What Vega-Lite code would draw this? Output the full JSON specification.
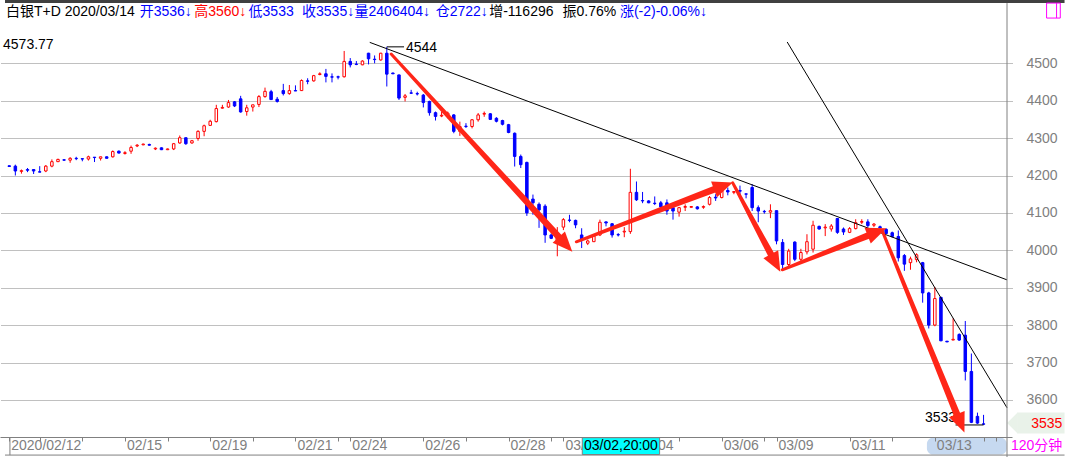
{
  "$schema": "https://vega.github.io/schema/vega-lite/v6.json",
  "width": 1012,
  "height": 409,
  "autosize": {"type": "none"},
  "padding": {"left": 0, "top": 28, "right": 58, "bottom": 20},
  "background": "white",
  "config": {"view": {"stroke": null}, "font": "Liberation Sans"},
  "datasets": {
    "candles": [
      {"i":0,"o":4226,"h":4227,"l":4223,"c":4224},{"i":1,"o":4225,"h":4229,"l":4200,"c":4212},{"i":2,"o":4211,"h":4216,"l":4205,"c":4213},{"i":3,"o":4216,"h":4220,"l":4209,"c":4214},{"i":4,"o":4216,"h":4217,"l":4204,"c":4212},{"i":5,"o":4210,"h":4225,"l":4209,"c":4209},{"i":6,"o":4212,"h":4228,"l":4209,"c":4225},{"i":7,"o":4225,"h":4243,"l":4222,"c":4237},{"i":8,"o":4237,"h":4245,"l":4236,"c":4243},{"i":9,"o":4242,"h":4244,"l":4239,"c":4241},
      {"i":10,"o":4241,"h":4249,"l":4234,"c":4246},{"i":11,"o":4246,"h":4250,"l":4241,"c":4245},{"i":12,"o":4245,"h":4245,"l":4238,"c":4244},{"i":13,"o":4244,"h":4253,"l":4240,"c":4250},{"i":14,"o":4249,"h":4249,"l":4236,"c":4248},{"i":15,"o":4246,"h":4250,"l":4240,"c":4250},{"i":16,"o":4250,"h":4251,"l":4246,"c":4246},{"i":17,"o":4250,"h":4267,"l":4248,"c":4264},{"i":18,"o":4265,"h":4267,"l":4259,"c":4260},{"i":19,"o":4259,"h":4265,"l":4256,"c":4261},
      {"i":20,"o":4265,"h":4280,"l":4258,"c":4275},{"i":21,"o":4279,"h":4284,"l":4276,"c":4281},{"i":22,"o":4282,"h":4285,"l":4281,"c":4284},{"i":23,"o":4283,"h":4285,"l":4280,"c":4281},{"i":24,"o":4271,"h":4275,"l":4268,"c":4273},{"i":25,"o":4274,"h":4275,"l":4268,"c":4269},{"i":26,"o":4269,"h":4272,"l":4268,"c":4271},{"i":27,"o":4271,"h":4287,"l":4268,"c":4285},{"i":28,"o":4287,"h":4307,"l":4285,"c":4301},{"i":29,"o":4301,"h":4301,"l":4282,"c":4285},
      {"i":30,"o":4287,"h":4295,"l":4285,"c":4293},{"i":31,"o":4299,"h":4321,"l":4293,"c":4318},{"i":32,"o":4318,"h":4336,"l":4305,"c":4333},{"i":33,"o":4334,"h":4349,"l":4333,"c":4345},{"i":34,"o":4344,"h":4389,"l":4342,"c":4379},{"i":35,"o":4380,"h":4389,"l":4379,"c":4382},{"i":36,"o":4383,"h":4402,"l":4381,"c":4395},{"i":37,"o":4397,"h":4399,"l":4383,"c":4386},{"i":38,"o":4405,"h":4413,"l":4368,"c":4370},{"i":39,"o":4371,"h":4389,"l":4360,"c":4381},
      {"i":40,"o":4383,"h":4389,"l":4371,"c":4389},{"i":41,"o":4390,"h":4415,"l":4383,"c":4411},{"i":42,"o":4411,"h":4435,"l":4408,"c":4425},{"i":43,"o":4424,"h":4429,"l":4402,"c":4403},{"i":44,"o":4404,"h":4410,"l":4395,"c":4398},{"i":45,"o":4427,"h":4445,"l":4414,"c":4419},{"i":46,"o":4419,"h":4442,"l":4416,"c":4427},{"i":47,"o":4427,"h":4441,"l":4426,"c":4426},{"i":48,"o":4427,"h":4457,"l":4426,"c":4454},{"i":49,"o":4453,"h":4460,"l":4444,"c":4452},
      {"i":50,"o":4453,"h":4469,"l":4451,"c":4467},{"i":51,"o":4470,"h":4476,"l":4468,"c":4472},{"i":52,"o":4472,"h":4485,"l":4449,"c":4465},{"i":53,"o":4464,"h":4473,"l":4449,"c":4463},{"i":54,"o":4464,"h":4467,"l":4457,"c":4463},{"i":55,"o":4464,"h":4533,"l":4462,"c":4505},{"i":56,"o":4505,"h":4514,"l":4489,"c":4496},{"i":57,"o":4498,"h":4506,"l":4495,"c":4497},{"i":58,"o":4496,"h":4508,"l":4495,"c":4506},{"i":59,"o":4527,"h":4528,"l":4497,"c":4512},
      {"i":60,"o":4511,"h":4521,"l":4500,"c":4510},{"i":61,"o":4509,"h":4528,"l":4507,"c":4527},{"i":62,"o":4527,"h":4544,"l":4438,"c":4471},{"i":63,"o":4474,"h":4475,"l":4471,"c":4472},{"i":64,"o":4469,"h":4469,"l":4402,"c":4407},{"i":65,"o":4409,"h":4418,"l":4398,"c":4413},{"i":66,"o":4421,"h":4429,"l":4418,"c":4420},{"i":67,"o":4419,"h":4424,"l":4414,"c":4418},{"i":68,"o":4415,"h":4418,"l":4382,"c":4395},{"i":69,"o":4398,"h":4400,"l":4360,"c":4368},
      {"i":70,"o":4368,"h":4371,"l":4347,"c":4358},{"i":71,"o":4359,"h":4371,"l":4356,"c":4361},{"i":72,"o":4360,"h":4371,"l":4353,"c":4367},{"i":73,"o":4362,"h":4364,"l":4313,"c":4318},{"i":74,"o":4318,"h":4344,"l":4306,"c":4331},{"i":75,"o":4332,"h":4340,"l":4327,"c":4331},{"i":76,"o":4331,"h":4351,"l":4326,"c":4349},{"i":77,"o":4349,"h":4367,"l":4344,"c":4362},{"i":78,"o":4364,"h":4371,"l":4357,"c":4366},{"i":79,"o":4365,"h":4367,"l":4349,"c":4350},
      {"i":80,"o":4353,"h":4356,"l":4342,"c":4345},{"i":81,"o":4347,"h":4349,"l":4334,"c":4337},{"i":82,"o":4336,"h":4338,"l":4313,"c":4315},{"i":83,"o":4313,"h":4315,"l":4224,"c":4251},{"i":84,"o":4251,"h":4256,"l":4220,"c":4229},{"i":85,"o":4235,"h":4237,"l":4092,"c":4100},{"i":86,"o":4137,"h":4149,"l":4095,"c":4127},{"i":87,"o":4123,"h":4128,"l":4060,"c":4108},{"i":88,"o":4118,"h":4123,"l":4020,"c":4041},{"i":89,"o":4041,"h":4045,"l":4030,"c":4032},
      {"i":90,"o":4022,"h":4062,"l":3984,"c":4036},{"i":91,"o":4062,"h":4086,"l":4054,"c":4082},{"i":92,"o":4081,"h":4095,"l":4075,"c":4080},{"i":93,"o":4080,"h":4082,"l":4059,"c":4068},{"i":94,"o":4041,"h":4059,"l":4006,"c":4029},{"i":95,"o":4019,"h":4029,"l":4014,"c":4025},{"i":96,"o":4023,"h":4041,"l":4023,"c":4038},{"i":97,"o":4041,"h":4082,"l":4038,"c":4075},{"i":98,"o":4076,"h":4077,"l":4064,"c":4073},{"i":99,"o":4071,"h":4073,"l":4034,"c":4041},
      {"i":100,"o":4042,"h":4046,"l":4037,"c":4041},{"i":101,"o":4049,"h":4062,"l":4035,"c":4051},{"i":102,"o":4050,"h":4218,"l":4044,"c":4155},{"i":103,"o":4155,"h":4184,"l":4132,"c":4135},{"i":104,"o":4133,"h":4156,"l":4126,"c":4132},{"i":105,"o":4132,"h":4134,"l":4126,"c":4127},{"i":106,"o":4126,"h":4144,"l":4121,"c":4125},{"i":107,"o":4127,"h":4132,"l":4111,"c":4116},{"i":108,"o":4127,"h":4136,"l":4095,"c":4105},{"i":109,"o":4114,"h":4118,"l":4082,"c":4105},
      {"i":110,"o":4102,"h":4116,"l":4090,"c":4114},{"i":111,"o":4115,"h":4123,"l":4105,"c":4117},{"i":112,"o":4115,"h":4118,"l":4114,"c":4117},{"i":113,"o":4116,"h":4118,"l":4109,"c":4111},{"i":114,"o":4115,"h":4120,"l":4111,"c":4117},{"i":115,"o":4123,"h":4145,"l":4120,"c":4141},{"i":116,"o":4142,"h":4150,"l":4132,"c":4140},{"i":117,"o":4141,"h":4173,"l":4139,"c":4159},{"i":118,"o":4160,"h":4168,"l":4147,"c":4156},{"i":119,"o":4155,"h":4158,"l":4150,"c":4157},
      {"i":120,"o":4160,"h":4173,"l":4145,"c":4158},{"i":121,"o":4151,"h":4151,"l":4139,"c":4150},{"i":122,"o":4168,"h":4177,"l":4105,"c":4114},{"i":123,"o":4114,"h":4120,"l":4075,"c":4105},{"i":124,"o":4104,"h":4108,"l":4098,"c":4103},{"i":125,"o":4102,"h":4123,"l":4086,"c":4106},{"i":126,"o":4106,"h":4106,"l":4016,"c":4025},{"i":127,"o":4021,"h":4030,"l":3949,"c":3962},{"i":128,"o":3962,"h":4004,"l":3958,"c":3998},{"i":129,"o":4022,"h":4024,"l":3971,"c":3976},
      {"i":130,"o":3976,"h":4004,"l":3971,"c":3994},{"i":131,"o":3996,"h":4043,"l":3989,"c":4023},{"i":132,"o":4003,"h":4079,"l":3994,"c":4067},{"i":133,"o":4064,"h":4066,"l":4055,"c":4057},{"i":134,"o":4060,"h":4070,"l":4038,"c":4062},{"i":135,"o":4057,"h":4070,"l":4050,"c":4065},{"i":136,"o":4085,"h":4085,"l":4044,"c":4048},{"i":137,"o":4057,"h":4061,"l":4041,"c":4049},{"i":138,"o":4048,"h":4062,"l":4046,"c":4058},{"i":139,"o":4058,"h":4083,"l":4056,"c":4074},
      {"i":140,"o":4075,"h":4083,"l":4070,"c":4077},{"i":141,"o":4076,"h":4083,"l":4062,"c":4066},{"i":142,"o":4067,"h":4073,"l":4062,"c":4070},{"i":143,"o":4063,"h":4066,"l":4058,"c":4060},{"i":144,"o":4056,"h":4059,"l":4043,"c":4045},{"i":145,"o":4047,"h":4050,"l":4034,"c":4037},{"i":146,"o":4037,"h":4053,"l":3970,"c":3980},{"i":147,"o":3986,"h":3990,"l":3945,"c":3963},{"i":148,"o":3967,"h":3983,"l":3948,"c":3977},{"i":149,"o":3975,"h":3992,"l":3968,"c":3988},
      {"i":150,"o":3967,"h":3969,"l":3860,"c":3886},{"i":151,"o":3886,"h":3889,"l":3791,"c":3800},{"i":152,"o":3800,"h":3902,"l":3797,"c":3871},{"i":153,"o":3874,"h":3876,"l":3757,"c":3758},{"i":154,"o":3757,"h":3757,"l":3755,"c":3755},{"i":155,"o":3760,"h":3818,"l":3760,"c":3762},{"i":156,"o":3775,"h":3778,"l":3758,"c":3760},{"i":157,"o":3773,"h":3811,"l":3652,"c":3676},{"i":158,"o":3676,"h":3724,"l":3538,"c":3540},{"i":159,"o":3556,"h":3566,"l":3536,"c":3538},
      {"i":160,"o":3536,"h":3560,"l":3533,"c":3535}
    ],
    "trend": [
      {"i":59.2,"v":4556,"i2":163.85,"v2":3921},
      {"i":127.75,"v":4557,"i2":163.85,"v2":3579}
    ],
    "arrows": [
      {"arrow":"a1","seq":0,"part":"tail","i":62.72,"v":4524.8},
      {"arrow":"a1","seq":1,"part":"neck","i":91.15,"v":4019.5},
      {"arrow":"a2","seq":0,"part":"tail","i":93.12,"v":4022.7},
      {"arrow":"a2","seq":1,"part":"neck","i":116.99,"v":4170.4},
      {"arrow":"a3","seq":0,"part":"tail","i":118.81,"v":4180.3},
      {"arrow":"a3","seq":1,"part":"neck","i":125.69,"v":3970.9},
      {"arrow":"a4","seq":0,"part":"tail","i":126.94,"v":3947.9},
      {"arrow":"a4","seq":1,"part":"neck","i":142.2,"v":4047.0},
      {"arrow":"a5","seq":0,"part":"tail","i":143.37,"v":4052.1},
      {"arrow":"a5","seq":1,"part":"neck","i":156.11,"v":3542.2}
    ],
    "heads": [
      {"arrow":"a1","i":92.47,"v":3996.0},
      {"arrow":"a2","i":118.81,"v":4181.6},
      {"arrow":"a3","i":126.62,"v":3942.6},
      {"arrow":"a4","i":144.02,"v":4058.8},
      {"arrow":"a5","i":156.86,"v":3512.6}
    ],
    "dates": [
      {"i":0,"t":"2020/02/12"},{"i":19,"t":"02/15"},{"i":33,"t":"02/19"},{"i":47,"t":"02/21"},{"i":56,"t":"02/24"},{"i":68,"t":"02/26"},{"i":82,"t":"02/28"},{"i":91,"t":"03/02"},{"i":103,"t":"03/04"},{"i":117,"t":"03/06"},{"i":126,"t":"03/09"},{"i":138,"t":"03/11"},{"i":152,"t":"03/13"}
    ]
  },
  "layer": [
    {
      "data": {"name": "candles"},
      "transform": [{"filter": "datum.c >= datum.o"}],
      "mark": {"type": "rule", "color": "#ff0000", "strokeWidth": 1},
      "encoding": {
        "x": {"field": "i", "type": "quantitative",
          "scale": {"domain": [-0.7, 163.85], "nice": false, "zero": false},
          "axis": {"title": null, "labels": false, "grid": false, "zindex": 1, "domainColor": "#808080", "tickColor": "#808080", "tickSize": 4,
            "values": [0,5,12,19,26,33,40,47,54,56,61,68,75,82,89,91,110,117,124,126,138,145,152,160,162]}},
        "y": {"field": "l", "type": "quantitative",
          "scale": {"domain": [3500.8, 4594.4], "nice": false, "zero": false},
          "axis": {"title": null, "orient": "right", "format": "d", "domain": false, "ticks": false, "grid": true, "gridColor": "#808080", "gridDash": [1, 1], "gridOpacity": 1,
            "labelColor": "#808080", "labelFontSize": 14, "labelFont": "Liberation Sans", "labelPadding": 14, "labelFlush": false, "labelOverlap": false,
            "values": [3600,3700,3800,3900,4000,4100,4200,4300,4400,4500]}},
        "y2": {"field": "h"}
      }
    },
    {
      "data": {"name": "candles"},
      "transform": [{"filter": "datum.c < datum.o"}],
      "mark": {"type": "rule", "color": "#0000ff", "strokeWidth": 1},
      "encoding": {"x": {"field": "i", "type": "quantitative"}, "y": {"field": "l", "type": "quantitative"}, "y2": {"field": "h"}}
    },
    {
      "data": {"name": "candles"},
      "transform": [{"filter": "datum.c >= datum.o"}],
      "mark": {"type": "bar", "size": 2.5, "fill": "#ffffff", "stroke": "#ff0000", "strokeWidth": 1},
      "encoding": {"x": {"field": "i", "type": "quantitative"}, "y": {"field": "o", "type": "quantitative"}, "y2": {"field": "c"}}
    },
    {
      "data": {"name": "candles"},
      "transform": [{"filter": "datum.c < datum.o"}],
      "mark": {"type": "bar", "size": 2.5, "fill": "#0000ff", "stroke": "#0000ff", "strokeWidth": 1},
      "encoding": {"x": {"field": "i", "type": "quantitative"}, "y": {"field": "o", "type": "quantitative"}, "y2": {"field": "c"}}
    },
    {
      "data": {"name": "trend"},
      "mark": {"type": "rule", "color": "#000000", "strokeWidth": 1},
      "encoding": {"x": {"field": "i", "type": "quantitative"}, "y": {"field": "v", "type": "quantitative"}, "x2": {"field": "i2"}, "y2": {"field": "v2"}}
    },
    {
      "data": {"values": [{}]},
      "mark": {"type": "rule", "color": "#000000", "strokeWidth": 1},
      "encoding": {"x": {"datum": 62}, "x2": {"datum": 64.83}, "y": {"datum": 4544}}
    },
    {
      "data": {"values": [{}]},
      "mark": {"type": "text", "text": "4544", "align": "left", "baseline": "middle", "fontSize": 14, "color": "#000000"},
      "encoding": {"x": {"datum": 65.15}, "y": {"datum": 4542}}
    },
    {
      "data": {"values": [{}]},
      "mark": {"type": "rule", "color": "#000000", "strokeWidth": 1},
      "encoding": {"x": {"datum": 155.4}, "x2": {"datum": 160}, "y": {"datum": 3533}}
    },
    {
      "data": {"values": [{}]},
      "mark": {"type": "text", "text": "3533", "align": "right", "baseline": "alphabetic", "fontSize": 14, "color": "#000000"},
      "encoding": {"x": {"datum": 155.5}, "y": {"datum": 3541}}
    },
    {
      "data": {"name": "arrows"},
      "mark": {"type": "trail", "color": "#ff2618"},
      "encoding": {
        "x": {"field": "i", "type": "quantitative"},
        "y": {"field": "v", "type": "quantitative"},
        "detail": {"field": "arrow"},
        "order": {"field": "seq"},
        "size": {"field": "part", "type": "ordinal", "scale": {"domain": ["tail", "neck"], "range": [3, 7]}, "legend": null}
      }
    },
    {
      "data": {"name": "heads"}, "transform": [{"filter": "datum.arrow == 'a1'"}],
      "mark": {"type": "point", "shape": "M0,0L-1,-0.42L-1,0.42Z", "size": 1600, "filled": true, "opacity": 1, "color": "#ff2618", "strokeWidth": 0, "angle": 47.3},
      "encoding": {"x": {"field": "i", "type": "quantitative"}, "y": {"field": "v", "type": "quantitative"}}
    },
    {
      "data": {"name": "heads"}, "transform": [{"filter": "datum.arrow == 'a2'"}],
      "mark": {"type": "point", "shape": "M0,0L-1,-0.42L-1,0.42Z", "size": 1600, "filled": true, "opacity": 1, "color": "#ff2618", "strokeWidth": 0, "angle": 339.4},
      "encoding": {"x": {"field": "i", "type": "quantitative"}, "y": {"field": "v", "type": "quantitative"}}
    },
    {
      "data": {"name": "heads"}, "transform": [{"filter": "datum.arrow == 'a3'"}],
      "mark": {"type": "point", "shape": "M0,0L-1,-0.42L-1,0.42Z", "size": 1600, "filled": true, "opacity": 1, "color": "#ff2618", "strokeWidth": 0, "angle": 61.7},
      "encoding": {"x": {"field": "i", "type": "quantitative"}, "y": {"field": "v", "type": "quantitative"}}
    },
    {
      "data": {"name": "heads"}, "transform": [{"filter": "datum.arrow == 'a4'"}],
      "mark": {"type": "point", "shape": "M0,0L-1,-0.42L-1,0.42Z", "size": 1600, "filled": true, "opacity": 1, "color": "#ff2618", "strokeWidth": 0, "angle": 338.4},
      "encoding": {"x": {"field": "i", "type": "quantitative"}, "y": {"field": "v", "type": "quantitative"}}
    },
    {
      "data": {"name": "heads"}, "transform": [{"filter": "datum.arrow == 'a5'"}],
      "mark": {"type": "point", "shape": "M0,0L-1,-0.42L-1,0.42Z", "size": 1600, "filled": true, "opacity": 1, "color": "#ff2618", "strokeWidth": 0, "angle": 67.7},
      "encoding": {"x": {"field": "i", "type": "quantitative"}, "y": {"field": "v", "type": "quantitative"}}
    },
    {
      "data": {"values": [{}]},
      "mark": {"type": "rect", "fill": "#c6d9f0", "cornerRadius": 6},
      "encoding": {"x": {"datum": 150.7}, "x2": {"datum": 163.8}, "y": {"datum": 3499}, "y2": {"datum": 3454}}
    },
    {
      "data": {"name": "dates"},
      "mark": {"type": "text", "align": "left", "baseline": "middle", "dx": 2, "fontSize": 14, "color": "#808080"},
      "encoding": {"x": {"field": "i", "type": "quantitative"}, "y": {"datum": 3478}, "text": {"field": "t"}}
    },
    {
      "data": {"values": [{}]},
      "mark": {"type": "rect", "fill": "#00ffff", "stroke": "#808080", "strokeWidth": 1},
      "encoding": {"x": {"datum": 94.1}, "x2": {"datum": 106.8}, "y": {"datum": 3499}, "y2": {"datum": 3454}}
    },
    {
      "data": {"values": [{}]},
      "mark": {"type": "text", "text": "03/02,20:00", "align": "center", "baseline": "middle", "fontSize": 14, "color": "#000000"},
      "encoding": {"x": {"datum": 100.45}, "y": {"datum": 3477}}
    },
    {
      "data": {"values": [{}]},
      "mark": {"type": "text", "text": "120分钟", "align": "left", "baseline": "middle", "fontSize": 14, "font": "Liberation Sans, Noto Sans CJK SC", "color": "#ff00ff"},
      "encoding": {"x": {"datum": 164.5}, "y": {"datum": 3478}}
    },
    {
      "data": {"values": [{}]},
      "mark": {"type": "rect", "fill": "#e9f2e9"},
      "encoding": {"x": {"datum": 165.5}, "x2": {"datum": 173.3}, "y": {"datum": 3566}, "y2": {"datum": 3510}}
    },
    {
      "data": {"values": [{}]},
      "mark": {"type": "point", "shape": "M-1,0L0,-1L0,1Z", "size": 400, "filled": true, "opacity": 1, "color": "#e9f2e9", "strokeWidth": 0},
      "encoding": {"x": {"datum": 165.5}, "y": {"datum": 3538}}
    },
    {
      "data": {"values": [{}]},
      "mark": {"type": "text", "text": "3535", "align": "right", "baseline": "middle", "fontSize": 14, "color": "#ff0000"},
      "encoding": {"x": {"datum": 172.95}, "y": {"datum": 3535}}
    },
    {
      "data": {"values": [{}]},
      "mark": {"type": "rule", "color": "#404040", "strokeWidth": 3},
      "encoding": {"x": {"datum": -0.7}, "x2": {"datum": 173.3}, "y": {"datum": 4665}}
    },
    {
      "data": {"values": [{}]},
      "mark": {"type": "rule", "color": "#808080", "strokeWidth": 1},
      "encoding": {"x": {"datum": 163.85}, "y": {"datum": 4661}, "y2": {"datum": 3447}}
    },
    {
      "data": {"values": [{}]},
      "mark": {"type": "rule", "color": "#808080", "strokeWidth": 1},
      "encoding": {"x": {"datum": -0.7}, "x2": {"datum": 173.3}, "y": {"datum": 3452.5}}
    },
    {
      "data": {"values": [{}]},
      "mark": {"type": "rule", "color": "#808080", "strokeWidth": 1},
      "encoding": {"x": {"datum": 0.11}, "y": {"datum": 3499}, "y2": {"datum": 3452.5}}
    },
    {
      "data": {"values": [{}]},
      "mark": {"type": "rect", "fill": null, "stroke": "#ff00ff", "strokeWidth": 1},
      "encoding": {"x": {"datum": 170.35}, "x2": {"datum": 172.6}, "y": {"datum": 4661}, "y2": {"datum": 4621}}
    },
    {
      "data": {"values": [{}]},
      "mark": {"type": "rule", "color": "#ff00ff", "strokeWidth": 1},
      "encoding": {"x": {"datum": 171.99}, "y": {"datum": 4661}, "y2": {"datum": 4621}}
    },
    {
      "data": {"values": [{}]},
      "mark": {"type": "text", "text": "4573.77", "align": "left", "baseline": "top", "dy": 2, "fontSize": 14, "color": "#000000"},
      "encoding": {"x": {"datum": -1.02}, "y": {"datum": 4573.77}}
    },
    {
      "data": {"values": [{}]},
      "mark": {"type": "text", "text": "白银T+D 2020/03/14", "align": "left", "baseline": "middle", "fontSize": 14, "font": "Liberation Sans, Noto Sans CJK SC", "color": "#000000"},
      "encoding": {"x": {"datum": -0.54}, "y": {"datum": 4636}}
    },
    {
      "data": {"values": [{}]},
      "mark": {"type": "text", "text": "开3536↓", "align": "left", "baseline": "middle", "fontSize": 14, "font": "Liberation Sans, Noto Sans CJK SC", "color": "#0000ff"},
      "encoding": {"x": {"datum": 21.41}, "y": {"datum": 4636}}
    },
    {
      "data": {"values": [{}]},
      "mark": {"type": "text", "text": "高3560↓", "align": "left", "baseline": "middle", "fontSize": 14, "font": "Liberation Sans, Noto Sans CJK SC", "color": "#ff0000"},
      "encoding": {"x": {"datum": 30.36}, "y": {"datum": 4636}}
    },
    {
      "data": {"values": [{}]},
      "mark": {"type": "text", "text": "低3533", "align": "left", "baseline": "middle", "fontSize": 14, "font": "Liberation Sans, Noto Sans CJK SC", "color": "#0000ff"},
      "encoding": {"x": {"datum": 39.3}, "y": {"datum": 4636}}
    },
    {
      "data": {"values": [{}]},
      "mark": {"type": "text", "text": "收3535↓", "align": "left", "baseline": "middle", "fontSize": 14, "font": "Liberation Sans, Noto Sans CJK SC", "color": "#0000ff"},
      "encoding": {"x": {"datum": 48.08}, "y": {"datum": 4636}}
    },
    {
      "data": {"values": [{}]},
      "mark": {"type": "text", "text": "量2406404↓", "align": "left", "baseline": "middle", "fontSize": 14, "font": "Liberation Sans, Noto Sans CJK SC", "color": "#0000ff"},
      "encoding": {"x": {"datum": 56.7}, "y": {"datum": 4636}}
    },
    {
      "data": {"values": [{}]},
      "mark": {"type": "text", "text": "仓2722↓", "align": "left", "baseline": "middle", "fontSize": 14, "font": "Liberation Sans, Noto Sans CJK SC", "color": "#0000ff"},
      "encoding": {"x": {"datum": 70.03}, "y": {"datum": 4636}}
    },
    {
      "data": {"values": [{}]},
      "mark": {"type": "text", "text": "增-116296", "align": "left", "baseline": "middle", "fontSize": 14, "font": "Liberation Sans, Noto Sans CJK SC", "color": "#000000"},
      "encoding": {"x": {"datum": 78.81}, "y": {"datum": 4636}}
    },
    {
      "data": {"values": [{}]},
      "mark": {"type": "text", "text": "振0.76%", "align": "left", "baseline": "middle", "fontSize": 14, "font": "Liberation Sans, Noto Sans CJK SC", "color": "#000000"},
      "encoding": {"x": {"datum": 90.85}, "y": {"datum": 4636}}
    },
    {
      "data": {"values": [{}]},
      "mark": {"type": "text", "text": "涨(-2)-0.06%↓", "align": "left", "baseline": "middle", "fontSize": 14, "font": "Liberation Sans, Noto Sans CJK SC", "color": "#0000ff"},
      "encoding": {"x": {"datum": 100.28}, "y": {"datum": 4636}}
    }
  ]
}
